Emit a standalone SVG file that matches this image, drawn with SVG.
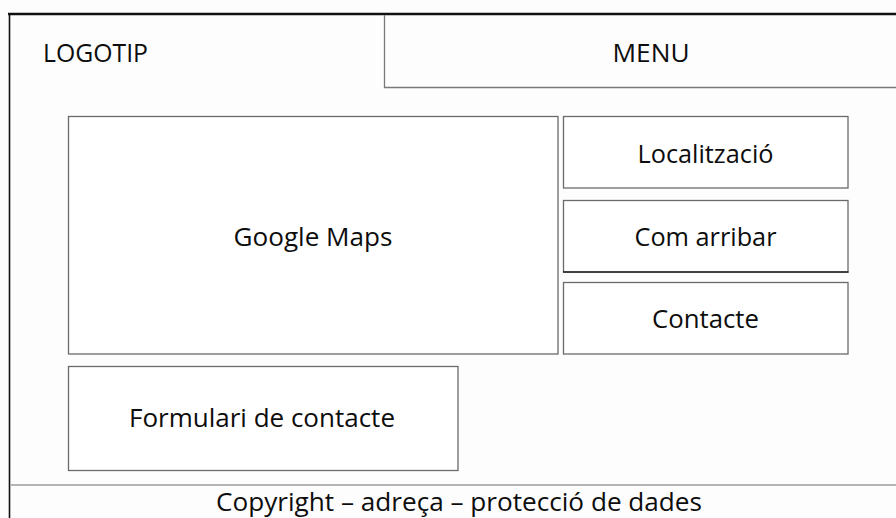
<svg xmlns="http://www.w3.org/2000/svg" width="896" height="518" viewBox="0 0 896 518">
  <style>
    .box { fill: #ffffff; stroke: #6a6a6a; stroke-width: 1.3; }
    .lbl { font-family: "Open Sans", "Noto Sans", "Liberation Sans", sans-serif; font-size: 25.5px; fill: #0d0d0d; }
    .mid { text-anchor: middle; }
  </style>
  <rect x="0" y="0" width="896" height="518" fill="#fdfdfd"/>
  <g id="frame">
    <line x1="8" y1="14" x2="896" y2="14" stroke="#111" stroke-width="2.6"/>
    <line x1="9.5" y1="13" x2="9.5" y2="518" stroke="#111" stroke-width="1.6"/>
  </g>
  <g id="logotip">
    <text class="lbl" x="43" y="62" textLength="105" lengthAdjust="spacingAndGlyphs">LOGOTIP</text>
  </g>
  <g id="menu">
    <path d="M384.5 15 V87.5 H896" fill="none" stroke="#7a7a7a" stroke-width="1.3"/>
    <text class="lbl mid" x="651" y="62" textLength="77" lengthAdjust="spacingAndGlyphs">MENU</text>
  </g>
  <g id="google-maps">
    <rect class="box" x="68.5" y="116.5" width="489.5" height="237.5"/>
    <text class="lbl mid" x="313" y="246" textLength="159" lengthAdjust="spacingAndGlyphs">Google Maps</text>
  </g>
  <g id="localitzacio">
    <rect class="box" x="563.5" y="116.5" width="284.5" height="71.5"/>
    <text class="lbl mid" x="705.5" y="163" textLength="136" lengthAdjust="spacingAndGlyphs">Localització</text>
  </g>
  <g id="com-arribar">
    <rect class="box" x="563.5" y="200.5" width="284.5" height="71.5"/>
    <line x1="563" y1="272" x2="848.5" y2="272" stroke="#222" stroke-width="1.3"/>
    <text class="lbl mid" x="705.5" y="246" textLength="142" lengthAdjust="spacingAndGlyphs">Com arribar</text>
  </g>
  <g id="contacte">
    <rect class="box" x="563.5" y="282.5" width="284.5" height="71.5"/>
    <text class="lbl mid" x="705.5" y="328" textLength="107" lengthAdjust="spacingAndGlyphs">Contacte</text>
  </g>
  <g id="formulari">
    <rect class="box" x="68.5" y="366.5" width="389.5" height="104"/>
    <text class="lbl mid" x="262" y="427" textLength="266" lengthAdjust="spacingAndGlyphs">Formulari de contacte</text>
  </g>
  <g id="footer">
    <line x1="10" y1="485" x2="896" y2="485" stroke="#b4b4b4" stroke-width="2"/>
    <text class="lbl mid" x="459" y="511" textLength="486" lengthAdjust="spacingAndGlyphs">Copyright – adreça – protecció de dades</text>
  </g>
  <g id="connectors"/>
</svg>
